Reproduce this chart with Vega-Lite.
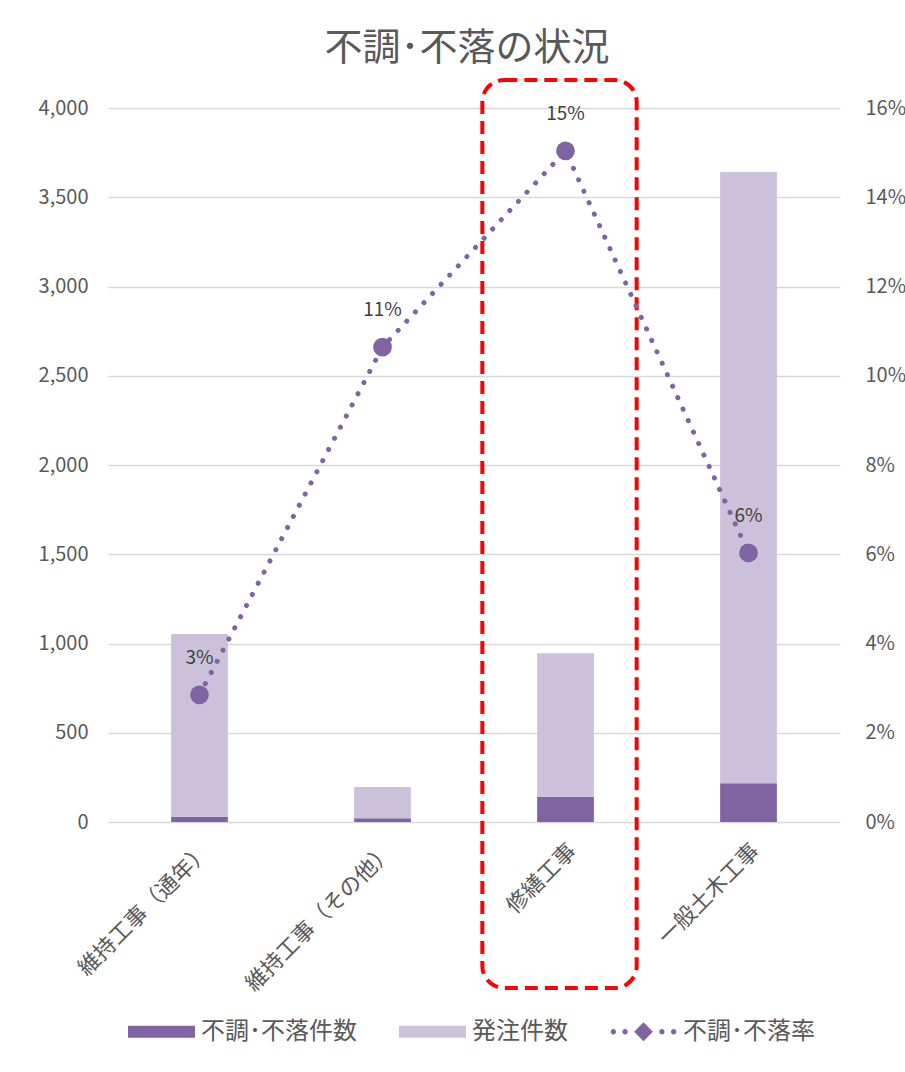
{
  "$schema": "https://vega.github.io/schema/vega-lite/v6.json",
  "width": 732,
  "height": 714,
  "autosize": {"type": "none"},
  "padding": {"left": 108, "top": 108, "right": 65, "bottom": 250},
  "background": "white",
  "config": {
    "font": "Noto Sans CJK JP",
    "view": {"stroke": null}
  },
  "title": {
    "text": "不調･不落の状況",
    "fontSize": 38,
    "fontWeight": "normal",
    "color": "#595959",
    "anchor": "middle",
    "frame": "group",
    "offset": 10,
    "dx": -7
  },
  "datasets": {
    "counts": [
      {"cat": "維持工事（通年）", "series": "不調･不落件数", "value": 30},
      {"cat": "維持工事（通年）", "series": "発注件数", "value": 1023},
      {"cat": "維持工事（その他）", "series": "不調･不落件数", "value": 21},
      {"cat": "維持工事（その他）", "series": "発注件数", "value": 175},
      {"cat": "修繕工事", "series": "不調･不落件数", "value": 142},
      {"cat": "修繕工事", "series": "発注件数", "value": 803},
      {"cat": "一般土木工事", "series": "不調･不落件数", "value": 217},
      {"cat": "一般土木工事", "series": "発注件数", "value": 3424}
    ],
    "rates": [
      {"cat": "維持工事（通年）", "rate": 0.0285},
      {"cat": "維持工事（その他）", "rate": 0.1064},
      {"cat": "修繕工事", "rate": 0.1504},
      {"cat": "一般土木工事", "rate": 0.0603}
    ]
  },
  "encoding": {
    "x": {
      "field": "cat",
      "type": "nominal",
      "sort": ["維持工事（通年）", "維持工事（その他）", "修繕工事", "一般土木工事"],
      "scale": {
        "domain": ["維持工事（通年）", "維持工事（その他）", "修繕工事", "一般土木工事"],
        "paddingInner": 0.69,
        "paddingOuter": 0.345
      },
      "axis": {
        "title": null,
        "labelAngle": -45,
        "labelAlign": "right",
        "labelBaseline": "top",
        "labelPadding": 18,
        "labelFontSize": 22,
        "labelColor": "#595959",
        "labelLimit": 0,
        "domain": false,
        "ticks": false,
        "grid": false
      }
    }
  },
  "layer": [
    {
      "layer": [
        {
          "data": {"name": "counts"},
          "mark": {"type": "bar"},
          "encoding": {
            "y": {
              "field": "value",
              "type": "quantitative",
              "stack": "zero",
              "scale": {"domain": [0, 4000], "nice": false},
              "axis": {
                "title": null,
                "values": [0, 500, 1000, 1500, 2000, 2500, 3000, 3500, 4000],
                "format": ",.0f",
                "labelFontSize": 20,
                "labelColor": "#595959",
                "labelPadding": 20,
                "ticks": false,
                "domain": false,
                "grid": true,
                "gridColor": "#d9d9d9",
                "gridWidth": 1.3
              }
            },
            "order": {"field": "series", "sort": "ascending"},
            "color": {
              "field": "series",
              "type": "nominal",
              "scale": {
                "domain": ["不調･不落件数", "発注件数", "不調･不落率"],
                "range": ["#7f63a2", "#ccc1da", "#7f63a2"]
              },
              "legend": {
                "title": null,
                "orient": "none",
                "direction": "horizontal",
                "legendX": 20,
                "legendY": 890,
                "padding": 0,
                "symbolSize": 4489,
                "labelFontSize": 24,
                "labelColor": "#595959",
                "labelOffset": 6,
                "columnPadding": 42,
                "labelLimit": 0,
                "encode": {
                  "symbols": {
                    "update": {
                      "shape": {"signal": "datum.value === '不調･不落率' ? 'M-0.98,0a0.08,0.08 0 1,0 0.16,0a0.08,0.08 0 1,0 -0.16,0Z M-0.63,0a0.08,0.08 0 1,0 0.16,0a0.08,0.08 0 1,0 -0.16,0Z M0,-0.28L0.28,0L0,0.28L-0.28,0Z M0.47,0a0.08,0.08 0 1,0 0.16,0a0.08,0.08 0 1,0 -0.16,0Z M0.82,0a0.08,0.08 0 1,0 0.16,0a0.08,0.08 0 1,0 -0.16,0Z' : 'M-1,-0.18H1V0.18H-1Z'"},
                      "fill": {"signal": "scale('color', datum.value)"},
                      "stroke": {"value": "transparent"},
                      "strokeWidth": {"value": 0},
                      "opacity": {"value": 1}
                    }
                  }
                }
              }
            }
          }
        },
        {
          "data": {"values": [{"cat": "修繕工事"}]},
          "mark": {
            "type": "bar",
            "width": {"band": 2.72},
            "xOffset": -6,
            "cornerRadius": 22,
            "fill": "transparent",
            "stroke": "#ff0000",
            "strokeWidth": 4,
            "strokeDash": [13, 7]
          },
          "encoding": {
            "y": {"datum": 4157, "type": "quantitative"},
            "y2": {"datum": -930}
          }
        }
      ]
    },
    {
      "data": {"name": "rates"},
      "layer": [
        {
          "mark": {"type": "line", "strokeWidth": 5, "strokeDash": [0.1, 12.5], "strokeCap": "round"},
          "encoding": {
            "y": {
              "field": "rate",
              "type": "quantitative",
              "scale": {"domain": [0, 0.16], "nice": false},
              "axis": {
                "orient": "right",
                "title": null,
                "values": [0, 0.02, 0.04, 0.06, 0.08, 0.1, 0.12, 0.14, 0.16],
                "format": ".0%",
                "labelFontSize": 20,
                "labelColor": "#595959",
                "labelPadding": 25,
                "ticks": false,
                "domain": false,
                "grid": false
              }
            },
            "color": {"datum": "不調･不落率"}
          }
        },
        {
          "mark": {"type": "circle", "size": 350, "opacity": 1},
          "encoding": {
            "y": {"field": "rate", "type": "quantitative"},
            "color": {"datum": "不調･不落率"}
          }
        },
        {
          "mark": {"type": "text", "dy": -37, "fontSize": 19, "color": "#404040"},
          "encoding": {
            "y": {"field": "rate", "type": "quantitative"},
            "text": {"field": "rate", "type": "quantitative", "format": ".0%"}
          }
        }
      ]
    }
  ],
  "resolve": {"scale": {"y": "independent"}}
}
